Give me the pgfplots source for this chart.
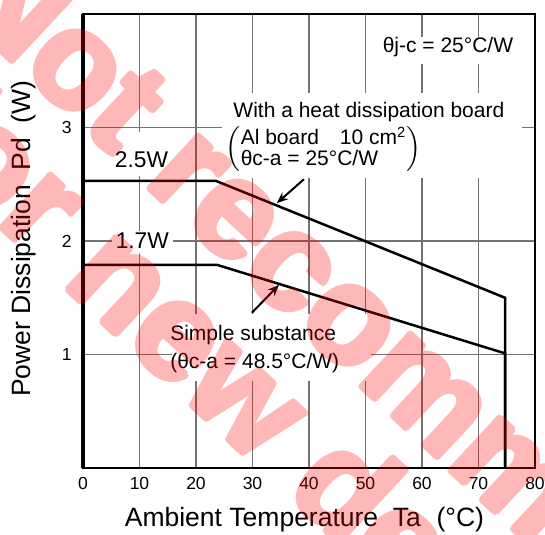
\documentclass[border=0pt]{standalone}
\usepackage{fontspec}
\setmainfont{Liberation Sans}
\usepackage{pgfplots}
\pgfplotsset{compat=1.18}
\usetikzlibrary{arrows.meta}

\begin{document}
\begin{tikzpicture}
\useasboundingbox (-33.2pt,-26.8pt) rectangle (184.8pt,187.2pt);
\begin{axis}[
    at={(0pt,0pt)}, anchor=south west,
    scale only axis,
    width=180.8pt, height=181.6pt,
    xmin=0, xmax=80, ymin=0, ymax=4,
    xtick={0,10,...,80},
    ytick={1,2,3},
    grid=major,
    major grid style={black!55, line width=0.45pt},
    axis line style={line width=1pt},
    major tick length=0pt,
    tick label style={font=\fontsize{7}{8}\selectfont},
    /pgf/number format/assume math mode=true,
    yticklabel style={xshift=-1pt},
    label style={font=\fontsize{10.6}{12}\selectfont},
    xlabel={Ambient Temperature\hspace{0.55em}Ta\hspace{0.6em}(°C)},
    ylabel={Power Dissipation\hspace{0.55em}Pd\hspace{0.55em}(W)},
    xlabel style={at={(axis description cs:0.49,-0.1145)}, anchor=center},
    ylabel style={at={(axis description cs:-0.1305,0.505)}, anchor=center},
    clip=false,
]

% white boxes behind the notes
\fill[white] (axis cs:50.8,3.56) rectangle (axis cs:78.2,3.80);
\fill[white] (axis cs:24.6,2.553) rectangle (axis cs:77.7,3.30);
\fill[white] (axis cs:5.1,2.57) rectangle (axis cs:15.9,2.96);
\fill[white] (axis cs:5.1,1.89) rectangle (axis cs:15.9,2.09);
\fill[white] (axis cs:15.75,0.763) rectangle (axis cs:51.0,1.36);

% derating curves
\addplot[black, line width=1pt] coordinates {(0,2.53) (23.5,2.53) (74.7,1.50) (74.7,0)};
\addplot[black, line width=1pt] coordinates {(0,1.79) (23.7,1.79) (74.7,1.01) (74.7,0)};
\draw[black, line width=1.4pt] (axis cs:0,0) -- (axis cs:0,4);

\node[font=\fontsize{8.4}{10}\selectfont] at (axis cs:64.6,3.71) {θj-c = 25°C/W};
\node[font=\fontsize{8.4}{10}\selectfont] at (axis cs:50.6,3.14) {With a heat dissipation board};
\node[font=\fontsize{8.4}{7.2}\selectfont, inner sep=0pt] at (axis cs:42.6,2.81)
  {$\left(\vcenter{\hbox{\begin{tabular}{@{}l@{}}Al board\hspace{1em}10 cm\textsuperscript{2}\\θc-a = 25°C/W\end{tabular}}}\right)$};
\node[font=\fontsize{8.4}{11.2}\selectfont, align=left] at (axis cs:30.4,1.044)
  {Simple substance\\(θc-a = 48.5°C/W)};
\node[font=\fontsize{9.1}{11}\selectfont] at (axis cs:10.35,2.72) {2.5W};
\node[font=\fontsize{9.1}{11}\selectfont] at (axis cs:10.5,2.0) {1.7W};

\draw[-{Stealth[length=4.5pt,width=3.6pt]}, line width=0.8pt] (axis cs:39.1,2.544) -- (axis cs:34.3,2.333);
\draw[-{Stealth[length=4.5pt,width=3.6pt]}, line width=0.8pt] (axis cs:29.9,1.368) -- (axis cs:34.7,1.614);
\end{axis}

% watermark, set heavier by repeating it with small offsets
\begin{scope}[transparency group, opacity=0.28]
\clip (-33.2pt,-26.8pt) rectangle (184.8pt,187.2pt);
\foreach \dx/\dy in {0/0, 1.2/0, -1.2/0, 0/1.2, 0/-1.2, 0.85/0.85, -0.85/0.85, 0.85/-0.85, -0.85/-0.85} {
  \node[xshift=\dx pt, yshift=\dy pt, rotate=-43, text=red, font=\fontsize{55}{55}\selectfont\bfseries] at (135.5pt,36.7pt) {Not recommended};
  \node[xshift=\dx pt, yshift=\dy pt, rotate=-43, text=red, font=\fontsize{55}{55}\selectfont\bfseries] at (89.2pt,1.6pt) {for new designs};
}
\end{scope}
\end{tikzpicture}
\end{document}
